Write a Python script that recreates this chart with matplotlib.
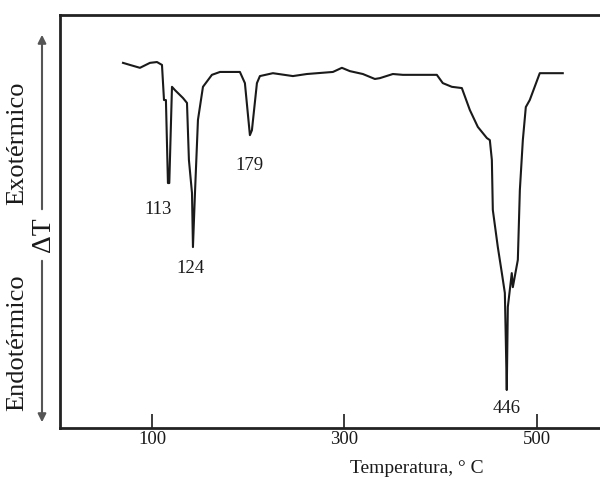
import numpy as np
import matplotlib
matplotlib.use("Agg")
import matplotlib.pyplot as plt

# ==================================================
# DADOS LIDOS DA CURVA DTA (ΔT em unidades arbitrárias)
# ==================================================
temperatura = [69.9, 77.1, 87.5, 97.9, 105.2, 110.4, 112.5, 114.5, 116.6, 118.0,
               120.8, 123.9, 132.2, 136.4, 138.4, 141.6, 142.6, 144.7, 147.8, 153.0,
               162.3, 170.7, 191.4, 196.6, 201.8, 203.9, 209.1, 212.2, 225.7, 246.5,
               261.0, 288.1, 297.4, 305.7, 319.2, 331.7, 336.9, 350.4, 360.8, 396.1,
               402.3, 411.7, 422.1, 430.4, 438.7, 448.1, 451.2, 453.3, 454.3, 459.5,
               463.7, 466.8, 467.8, 468.8, 469.9, 474.0, 475.1, 480.3, 482.4, 485.5,
               488.6, 492.7, 503.1, 527.0]
delta_t = [88.4, 87.9, 87.2, 88.4, 88.6, 87.9, 79.4, 79.4, 59.3, 59.3,
           82.6, 81.8, 79.9, 78.7, 64.9, 56.9, 43.8, 56.9, 74.6, 82.6,
           85.5, 86.2, 86.2, 83.5, 70.9, 72.1, 83.5, 85.2, 85.9, 85.2,
           85.7, 86.2, 87.2, 86.4, 85.7, 84.5, 84.7, 85.7, 85.5, 85.5,
           83.5, 82.6, 82.3, 77.0, 72.9, 70.2, 69.7, 64.9, 52.8, 43.8,
           37.5, 32.7, 21.3, 9.2, 29.3, 37.5, 34.1, 40.7, 57.6, 69.7,
           77.7, 79.4, 85.9, 85.9]

# rótulos dos picos: (texto, posição x, posição y)
picos_txt = ["113", "124", "179", "446"]
picos_x = [106.0, 140.5, 201.5, 468.5]
picos_y = [53.0, 38.5, 63.5, 4.8]

ticks_x = [100, 300, 500]

FONTE = ["Liberation Serif", "DejaVu Serif"]
COR = "#1a1a1a"

fig = plt.figure(figsize=(6.0, 4.9), dpi=100)
ax = fig.add_axes([0.1, 0.1265, 0.908, 0.843])

ax.plot(temperatura, delta_t, color=COR, lw=1.5)

for txt, x, y in zip(picos_txt, picos_x, picos_y):
    ax.text(x, y, txt, ha="center", va="center", fontsize=13.5,
            family=FONTE, color=COR)

ax.set_xlim(4.4, 570.7)
ax.set_ylim(0, 100)
ax.set_xticks(ticks_x)
ax.set_xticklabels([str(t) for t in ticks_x], family=FONTE, fontsize=13.5)
ax.tick_params(axis="x", direction="in", length=10, width=1.2, pad=2,
               colors=COR)
ax.set_yticks([])
for s in ax.spines.values():
    s.set_linewidth(2)
    s.set_color("#222222")

fig.text(0.695, 0.043, "Temperatura, ° C", ha="center", va="center",
         fontsize=14, family=FONTE, color=COR)

# eixo ΔT com setas
fig.text(0.073, 1 - 235 / 490, "ΔT", rotation=90, ha="center", va="center",
         fontsize=20, family=FONTE, color=COR)
fig.text(0.028, 1 - 143 / 490, "Exotérmico", rotation=90, ha="center",
         va="center", fontsize=19, family=FONTE, color=COR)
fig.text(0.028, 1 - 343 / 490, "Endotérmico", rotation=90, ha="center",
         va="center", fontsize=19, family=FONTE, color=COR)

fig.patches.append(matplotlib.patches.FancyArrowPatch(
    (0.07, 1 - 212 / 490), (0.07, 1 - 32 / 490), transform=fig.transFigure,
    arrowstyle="-|>", mutation_scale=12, color="#555555", lw=1.5))
fig.patches.append(matplotlib.patches.FancyArrowPatch(
    (0.07, 1 - 258 / 490), (0.07, 1 - 425 / 490), transform=fig.transFigure,
    arrowstyle="-|>", mutation_scale=12, color="#555555", lw=1.5))

fig.savefig("out.png", dpi=100)
